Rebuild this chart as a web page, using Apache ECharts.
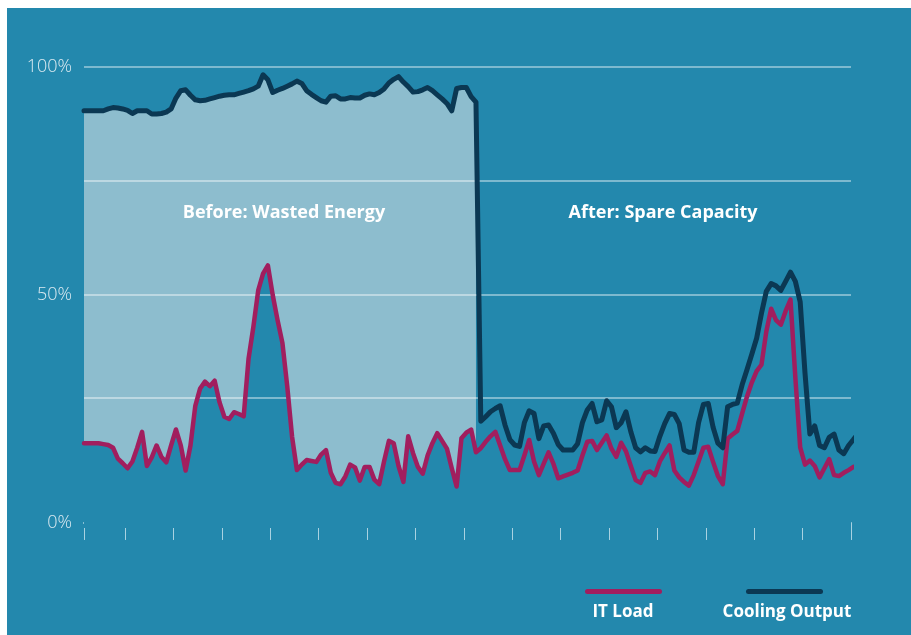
<!DOCTYPE html>
<html>
<head>
<meta charset="utf-8">
<script src="https://cdn.jsdelivr.net/npm/echarts@6/dist/echarts.min.js"></script>
<style>
  html, body { margin: 0; background: #fff; }
  #chart { position: absolute; left: 7px; top: 8px; width: 904px; height: 627px; background: #2388ad; }
</style>
</head>
<body>
<div id="chart"></div>
<script>
// samples are equally spaced along the time axis (10 samples per tick interval)
const coolingOutput = [
  90.4, 90.4, 90.4, 90.4, 90.4, 90.8, 91.1, 91.0, 90.8, 90.5,
  89.8, 90.4, 90.4, 90.4, 89.7, 89.7, 89.8, 90.1, 90.8, 93.2,
  94.8, 95.0, 93.8, 92.8, 92.6, 92.7, 93.0, 93.3, 93.6, 93.8,
  93.9, 93.9, 94.2, 94.5, 94.8, 95.2, 95.8, 98.3, 97.2, 94.4,
  94.9, 95.3, 95.8, 96.3, 96.9, 96.4, 94.8, 94.0, 93.3, 92.6,
  92.3, 93.6, 93.7, 93.0, 93.0, 93.3, 93.2, 93.2, 93.8, 94.1,
  93.9, 94.4, 95.2, 96.5, 97.3, 97.9, 96.7, 95.7, 94.5, 94.6,
  95.0, 95.5, 94.8, 93.9, 93.0, 92.0, 90.4, 95.3, 95.5, 95.5,
  93.5, 92.3, 22.3, 23.3, 24.4, 25.1, 25.7, 21.5, 18.3, 17.1,
  16.8, 22.0, 24.6, 24.0, 18.5, 21.3, 21.5, 19.7, 17.2, 16.0,
  16.0, 16.0, 17.4, 22.0, 24.8, 26.2, 22.2, 22.6, 26.8, 25.5,
  20.9, 22.0, 24.4, 20.0, 16.5, 15.6, 16.5, 15.8, 15.7, 19.0,
  21.8, 24.0, 23.8, 21.8, 16.0, 15.5, 15.5, 22.0, 26.0, 26.2,
  21.0, 17.5, 16.5, 25.5, 26.0, 26.3, 30.3, 33.6, 37.0, 40.5,
  46.0, 50.8, 52.5, 52.0, 51.0, 53.0, 55.0, 53.0, 48.5, 32.8,
  19.5, 21.3, 17.0, 16.5, 18.8, 19.5, 16.0, 15.2, 17.0, 18.3, 19.7
];
const itLoad = [
  17.5, 17.5, 17.5, 17.5, 17.3, 17.1, 16.5, 14.1, 13.1, 12.0,
  13.5, 16.5, 20.0, 12.5, 14.4, 17.0, 14.5, 13.3, 17.0, 20.5,
  17.0, 11.5, 17.0, 25.7, 29.5, 31.0, 30.0, 31.2, 26.5, 23.3,
  22.8, 24.3, 23.9, 23.4, 36.0, 43.0, 51.0, 54.7, 56.5, 50.0,
  44.5, 39.5, 30.0, 18.9, 11.6, 12.8, 13.8, 13.6, 13.4, 15.0,
  16.0, 11.0, 8.8, 8.5, 10.2, 12.8, 12.2, 9.3, 12.3, 12.3,
  9.5, 8.5, 13.5, 18.0, 17.5, 12.5, 9.0, 19.0, 15.3, 12.3,
  10.8, 14.8, 17.5, 19.7, 18.0, 16.3, 12.0, 8.0, 18.6, 19.8,
  20.5, 15.5, 16.4, 17.8, 19.0, 20.0, 17.0, 14.0, 11.6, 11.6,
  11.6, 14.8, 18.2, 13.5, 10.5, 13.0, 15.5, 13.0, 9.8, 10.2,
  10.6, 11.0, 11.5, 14.8, 17.8, 18.0, 16.0, 17.6, 19.2, 16.3,
  14.5, 17.6, 15.7, 12.5, 9.4, 8.8, 11.0, 11.3, 10.5, 13.5,
  15.3, 17.0, 11.5, 10.0, 9.0, 8.2, 10.5, 13.5, 16.5, 16.7,
  13.4, 10.3, 8.5, 18.5, 19.4, 20.2, 24.0, 27.7, 30.8, 33.3,
  34.7, 42.0, 47.0, 44.5, 43.5, 46.5, 49.0, 31.9, 16.6, 12.8,
  13.7, 12.5, 10.0, 12.0, 14.0, 10.5, 10.3, 11.0, 11.6, 12.3
];
// last sample of the "before" period (cooling drops right after it)
const switchIndex = 81;
const xTicks = [0, 8.5, 18.5, 28.5, 38.5, 48.5, 58.5, 68.5, 78.5, 88.5, 98.5, 108.5, 118.5, 128.5, 138.5, 148.5, 158.5];
const yLabels = [0, 50, 100];
const gridValues = [27.4, 50, 75, 100];

const bg = '#2388ad';
const magenta = '#a11e5e';
const navy = '#0b3853';
const pale = '#dbeaf1';

const toPairs = arr => arr.map((v, i) => [i, v]);

const chart = echarts.init(document.getElementById('chart'));
chart.setOption({
  animation: false,
  backgroundColor: bg,
  grid: { left: 77, right: 60, top: 59, bottom: 107 },
  xAxis: {
    type: 'value',
    min: 0,
    max: 158.5,
    axisLine: { lineStyle: { color: '#a9d2e1', width: 2 } },
    axisTick: { show: true, customValues: xTicks, length: 17, lineStyle: { color: '#a9d2e1', width: 1 } },
    axisLabel: { show: false },
    splitLine: { show: false }
  },
  yAxis: {
    type: 'value',
    min: -1.1,
    max: 100,
    axisLine: { show: false },
    axisTick: { show: false },
    splitLine: { show: false },
    axisLabel: {
      customValues: yLabels,
      formatter: '{value}%',
      color: pale,
      fontFamily: 'Open Sans',
      fontWeight: 300,
      fontSize: 18,
      margin: 12
    }
  },
  series: [
    {
      name: 'Wasted',
      type: 'line',
      data: toPairs(coolingOutput.slice(0, switchIndex + 1)),
      showSymbol: false,
      silent: true,
      lineStyle: { width: 0 },
      areaStyle: { color: '#8dbdce', opacity: 1, origin: 'start' },
      z: 1
    },
    {
      name: 'Under load',
      type: 'line',
      data: toPairs(itLoad),
      showSymbol: false,
      silent: true,
      clip: false,
      lineStyle: { width: 0 },
      areaStyle: { color: bg, opacity: 1, origin: 'start' },
      z: 2,
      markLine: {
        silent: true,
        symbol: 'none',
        z: 3,
        label: { show: false },
        lineStyle: { color: 'rgba(255,255,255,0.55)', width: 1.5, type: 'solid' },
        data: gridValues.map(v => ({ yAxis: v }))
      }
    },
    {
      name: 'IT Load',
      type: 'line',
      data: toPairs(itLoad),
      showSymbol: false,
      clip: false,
      lineStyle: { color: magenta, width: 4.5, cap: 'round', join: 'round' },
      z: 4
    },
    {
      name: 'Cooling Output',
      type: 'line',
      data: toPairs(coolingOutput),
      showSymbol: false,
      clip: false,
      lineStyle: { color: navy, width: 5, cap: 'round', join: 'round' },
      z: 5
    }
  ],
  graphic: [
    { type: 'text', x: 277, y: 205, z: 10, style: { text: 'Before: Wasted Energy', fill: '#fff', font: 'bold 18px "Open Sans"', align: 'center', verticalAlign: 'middle' } },
    { type: 'text', x: 656, y: 205, z: 10, style: { text: 'After: Spare Capacity', fill: '#fff', font: 'bold 18px "Open Sans"', align: 'center', verticalAlign: 'middle' } },
    { type: 'line', shape: { x1: 580.5, y1: 583.5, x2: 652.5, y2: 583.5 }, style: { stroke: magenta, lineWidth: 5, lineCap: 'round' } },
    { type: 'line', shape: { x1: 741.5, y1: 583.5, x2: 813.5, y2: 583.5 }, style: { stroke: navy, lineWidth: 5, lineCap: 'round' } },
    { type: 'text', x: 616, y: 604, style: { text: 'IT Load', fill: '#fff', font: 'bold 17px "Open Sans"', align: 'center', verticalAlign: 'middle' } },
    { type: 'text', x: 780, y: 604, style: { text: 'Cooling Output', fill: '#fff', font: 'bold 17px "Open Sans"', align: 'center', verticalAlign: 'middle' } }
  ]
});
</script>
</body>
</html>
